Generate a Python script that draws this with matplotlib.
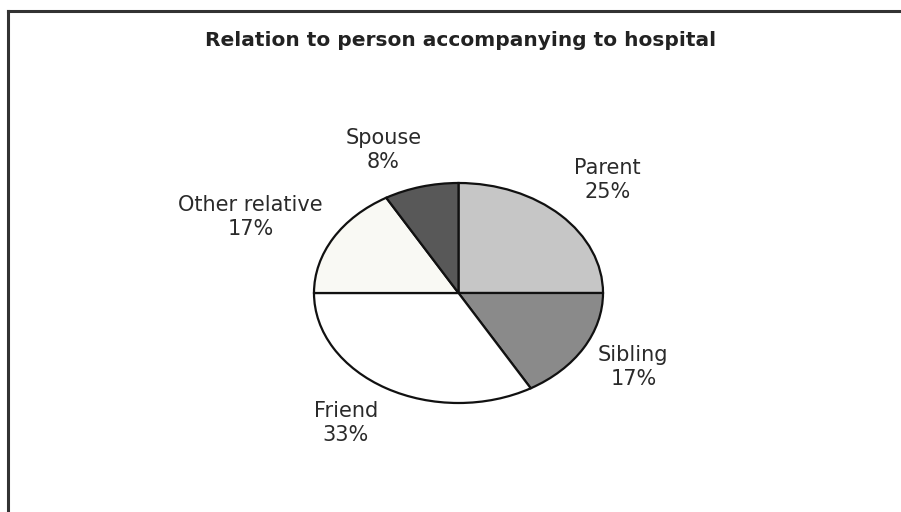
import matplotlib.pyplot as plt
from matplotlib.lines import Line2D

# data: 12 people, share by relation
labels = ["Parent", "Sibling", "Friend", "Other relative", "Spouse"]
counts = [3, 2, 4, 2, 1]
pcts = ["25%", "17%", "33%", "17%", "8%"]
colors = ["#c6c6c6", "#8a8a8a", "#ffffff", "#f9f9f4", "#585858"]

# where the excel labels sit (pie data units, ellipse radius = 1)
label_pos = [(1.03, 1.03), (1.21, -0.67), (-0.78, -1.18), (-1.44, 0.69), (-0.52, 1.30)]

fig = plt.figure(figsize=(9.01, 5.12), dpi=100)
fig.patch.set_facecolor("white")

# pie is squashed vertically in the original, so use a non-square axes box
ax = fig.add_axes([314 / 901, 1 - 403 / 512, 289 / 901, 220 / 512])
ax.pie(counts, colors=colors, startangle=90, counterclock=False, radius=1,
       wedgeprops=dict(edgecolor="#111111", linewidth=1.6))
ax.set_aspect("auto")
ax.set_xlim(-1, 1)
ax.set_ylim(-1, 1)
ax.axis("off")

for name, p, (x, y) in zip(labels, pcts, label_pos):
    ax.text(x, y, name + "\n" + p, ha="center", va="center", fontsize=15,
            family="DejaVu Sans", color="#2a2a2a", linespacing=1.25)

fig.text(461 / 901, 1 - 41 / 512, "Relation to person accompanying to hospital",
         ha="center", va="center", fontsize=14.5, fontweight="bold",
         family="DejaVu Sans", color="#222222")

# frame lines at top and left (rest is cut off in the scan)
fig.add_artist(Line2D([8 / 901, 1], [1 - 11 / 512, 1 - 11 / 512], color="#333333", lw=2.2))
fig.add_artist(Line2D([8 / 901, 8 / 901], [0, 1 - 11 / 512], color="#333333", lw=2.2))

fig.savefig("out.png", dpi=100)
